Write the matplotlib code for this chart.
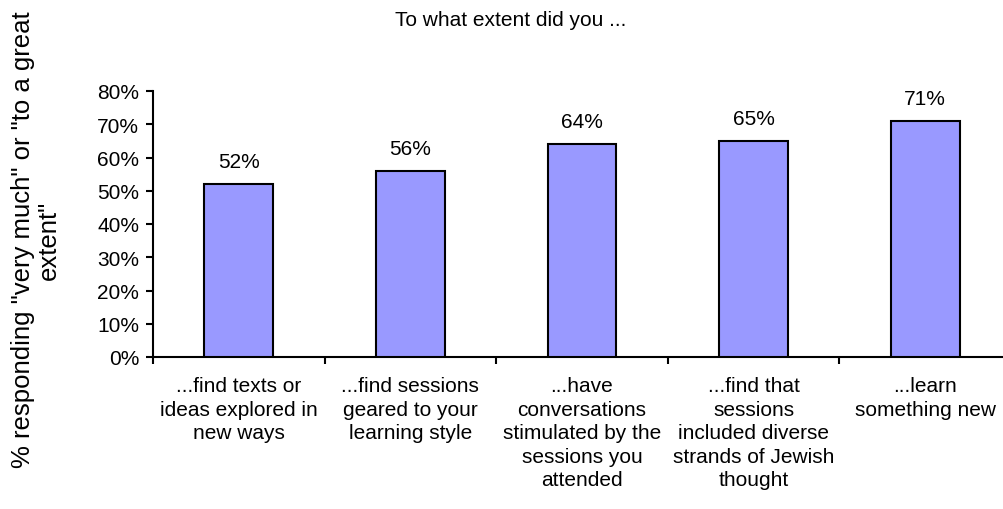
import numpy as np
import matplotlib.pyplot as plt

plt.rcParams['font.family'] = ['Liberation Sans', 'DejaVu Sans']

labels = ['...find texts or\nideas explored in\nnew ways',
          '...find sessions\ngeared to your\nlearning style',
          '...have\nconversations\nstimulated by the\nsessions you\nattended',
          '...find that\nsessions\nincluded diverse\nstrands of Jewish\nthought',
          '...learn\nsomething new']
values = [52, 56, 64, 65, 71]
yticks = [0, 10, 20, 30, 40, 50, 60, 70, 80]

fig = plt.figure(figsize=(10.04, 5.10), dpi=100)
W, H = 1004, 510
x0, x1 = 153, 1011
ytop, ybot = 92, 358
ax = fig.add_axes([x0 / W, 1 - ybot / H, (x1 - x0) / W, (ybot - ytop) / H])

x = np.arange(len(values))
ax.bar(x, values, width=0.40, color='#9999ff', edgecolor='black', linewidth=1.5, zorder=3)
for xi, v in zip(x, values):
    ax.text(xi, v + 5.1, f'{v}%', ha='center', va='baseline', fontsize=15)

ax.set_xlim(-0.5, len(values) - 0.5)
ax.set_ylim(0, 80)
ax.set_yticks(yticks)
ax.set_yticklabels([f'{t}%' for t in yticks], fontsize=15)
ax.set_xticks(np.arange(len(values) + 1) - 0.5)
ax.set_xticklabels([])
ax.set_xticks(x, minor=True)
ax.set_xticklabels(labels, minor=True, fontsize=15, linespacing=1.3, va='top')
ax.tick_params(axis='x', which='minor', length=0, pad=14)
ax.tick_params(axis='x', which='major', length=5, width=1.5, direction='out')
ax.tick_params(axis='y', length=5, width=1.5, direction='out', pad=5)
ax.spines['top'].set_visible(False)
ax.spines['right'].set_visible(False)
ax.spines['left'].set_linewidth(1.5)
ax.spines['bottom'].set_linewidth(1.5)

fig.text(36 / W, 1 - 240 / H, '% responding "very much" or "to a great\nextent"',
         rotation=90, ha='center', va='center', multialignment='center',
         fontsize=18.5, linespacing=1.1)
fig.text(511 / W, 1 - 20 / H, 'To what extent did you ...', ha='center', va='center', fontsize=15)

fig.savefig('out.png', dpi=100)
